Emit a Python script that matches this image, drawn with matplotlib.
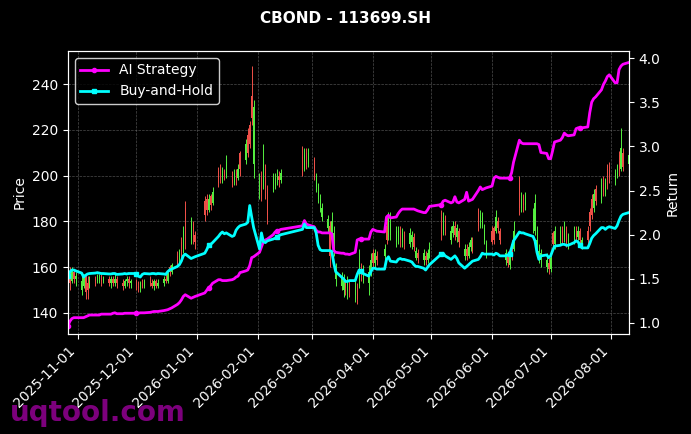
import pandas as pd
import matplotlib
matplotlib.use('Agg')
import matplotlib.pyplot as plt
import matplotlib.dates as mdates

TITLE = 'CBOND - 113699.SH'

# Shanghai trading days (weekends and exchange holidays removed)
HOLIDAYS = ['2026-01-01', '2026-01-02', '2026-02-16', '2026-02-17', '2026-02-18',
            '2026-02-19', '2026-02-20', '2026-02-23', '2026-04-06', '2026-05-01',
            '2026-05-04', '2026-05-05', '2026-06-19']
dates = pd.bdate_range('2025-10-27', '2026-08-10', freq='C', holidays=HOLIDAYS)

# daily candles, one row of values per month
opens = [
    150, 157, 154, 158, 155,
    150, 152, 156, 153, 151, 155, 154, 155, 156, 154, 155, 153, 155, 153, 155, 153, 152, 154, 155, 153,
    154, 152, 151, 153, 152, 154, 153, 152, 154, 152, 153, 155, 154, 160, 158, 165, 162, 171, 168, 186, 172, 179, 174,
    189, 190, 185, 191, 188, 202, 203, 199, 202, 200, 200, 197, 201, 199, 210, 207, 218, 222, 235, 205,
    194, 199, 195, 203, 194, 194, 196, 197, 200, 198, 208, 203, 210, 205,
    207, 195, 190, 186, 182, 177, 178, 174, 170, 155, 152, 150, 153, 149, 152, 148, 151, 152, 160, 155, 153, 158,
    166, 162, 165, 165, 178, 173, 174, 171, 172, 176, 171, 174, 170, 171, 173, 164, 166, 163, 165, 163, 166,
    182, 175, 181, 172, 175, 178, 173, 176, 165, 168, 165, 169, 171, 185, 178, 179, 172, 166,
    176, 177, 176, 180, 176, 163, 165, 161, 170, 168, 198, 186, 191, 187, 178, 176, 168, 164, 163, 160, 162,
    159, 175, 170, 172, 176, 172, 176, 171, 171, 176, 173, 176, 169, 176, 184, 190, 186, 194, 190, 197, 193, 203, 204,
    198, 200, 209, 203, 210, 205,
]
closes = [
    155, 153, 158, 155, 156,
    154, 157, 149, 150, 155, 154, 156, 155.5, 154, 155, 153, 155, 153, 155, 153, 152, 154, 155, 153, 154,
    152, 151, 153, 152, 154, 153, 152, 154, 152, 153, 155, 154, 157, 158, 161, 162, 166, 167, 176, 172, 180, 173, 171,
    183, 185, 190, 187, 193, 197, 199, 202, 200, 206, 197, 201, 198, 203, 203, 214, 210, 214, 225, 230,
    198, 193, 205, 195, 183, 199, 199, 201, 198, 201, 203, 209, 205, 210,
    201, 199, 195, 190, 186, 181, 165, 180, 175, 159, 156, 154, 151, 153, 150, 152, 146, 162, 156, 159, 158, 163,
    162, 166, 163, 168, 172, 181, 179, 176, 176, 172, 175, 170, 175, 174, 169, 167, 164, 166, 163, 166, 169,
    175, 182, 176, 176, 178, 174, 177, 171, 168, 165, 169, 172, 168, 178, 183, 182, 177, 170,
    171, 172, 182, 177, 172, 166, 162, 165, 166, 176, 186, 190, 187, 191, 183, 188, 172, 167, 166, 163, 159,
    164, 170, 176, 176, 172, 177, 171, 174, 176, 173, 176, 172, 172, 172, 178, 183, 192, 189, 196, 193, 197, 196, 199,
    201, 203, 202, 212, 204, 209,
]
highs = [
    158, 160, 160, 159, 158,
    156, 157, 157, 156, 156, 156, 157, 157, 157, 156, 156, 156, 156, 157, 156, 155, 155, 156, 156, 155,
    155, 154, 154, 155, 155, 156, 155, 155, 155, 155, 156, 157, 158, 161, 162, 167, 168, 173, 178, 189, 182, 180, 176,
    191, 192, 192, 192, 195, 204, 205, 204, 203, 209, 202, 203, 203, 205, 211, 216, 221, 224, 248, 233,
    201, 202, 214, 205, 196, 201, 201, 203, 202, 203, 213, 212, 212, 212,
    208, 201, 197, 192, 188, 183, 180, 184, 178, 162, 158, 157, 155, 156, 154, 154, 153, 168, 162, 161, 161, 166,
    168, 168, 167, 170, 182, 184, 184, 178, 178, 178, 177, 176, 177, 176, 175, 169, 168, 168, 167, 168, 171,
    185, 184, 183, 178, 180, 180, 179, 177, 170, 170, 171, 173, 173, 186, 185, 184, 179, 172,
    178, 178, 185, 182, 177, 168, 167, 168, 172, 180, 200, 193, 192, 193, 186, 192, 178, 170, 168, 166, 164,
    166, 176, 178, 178, 178, 180, 178, 175, 178, 178, 178, 177, 173, 178, 186, 192, 194, 196, 199, 200, 199, 205, 206,
    203, 205, 211, 221, 212, 212,
]
lows = [
    147, 150, 153, 153, 152,
    148, 151, 146, 146, 151, 152, 153, 153, 152, 153, 152, 151, 152, 152, 151, 150, 151, 152, 151, 151,
    150, 149, 149, 151, 151, 152, 151, 150, 151, 151, 152, 153, 153, 156, 157, 160, 161, 164, 166, 168, 170, 170, 168,
    180, 183, 184, 185, 187, 195, 197, 197, 198, 199, 195, 196, 196, 198, 200, 205, 208, 212, 222, 199,
    190, 189, 194, 190, 179, 193, 194, 196, 195, 197, 200, 202, 203, 204,
    198, 193, 188, 184, 180, 175, 160, 172, 165, 152, 150, 147, 148, 146, 147, 145, 144, 151, 154, 153, 148, 156,
    160, 160, 161, 163, 170, 172, 172, 169, 170, 169, 169, 168, 169, 168, 167, 163, 162, 161, 161, 162, 164,
    172, 174, 174, 170, 173, 172, 171, 169, 163, 163, 164, 167, 166, 176, 177, 177, 170, 164,
    170, 170, 175, 175, 170, 161, 160, 159, 163, 167, 183, 184, 184, 185, 175, 174, 166, 162, 160, 158, 157,
    158, 168, 168, 170, 170, 171, 169, 168, 170, 171, 172, 170, 168, 170, 176, 181, 184, 187, 188, 191, 191, 194, 197,
    196, 199, 200, 202, 202, 203,
]

# cumulative return of each strategy
ai_return = [
    0.97, 1.02, 1.05, 1.06, 1.06,
    1.06, 1.06, 1.07, 1.08, 1.09, 1.09, 1.09, 1.09, 1.10, 1.10, 1.10, 1.10, 1.11, 1.115, 1.105, 1.105, 1.11, 1.11, 1.11, 1.11,
    1.11, 1.11, 1.115, 1.115, 1.115, 1.12, 1.125, 1.13, 1.13, 1.13, 1.14, 1.145, 1.15, 1.16, 1.17, 1.21, 1.23, 1.26, 1.30, 1.32, 1.28, 1.29, 1.30,
    1.34, 1.37, 1.40, 1.42, 1.45, 1.49, 1.49, 1.48, 1.48, 1.48, 1.49, 1.50, 1.52, 1.53, 1.57, 1.59, 1.60, 1.65, 1.74, 1.75,
    1.80, 1.86, 1.92, 1.94, 1.95, 2.00, 2.03, 2.04, 2.05, 2.06, 2.10, 2.16, 2.12, 2.11,
    2.09, 2.05, 2.03, 2.03, 2.02, 2.02, 2.02, 2.01, 1.82, 1.80, 1.79, 1.79, 1.78, 1.78, 1.775, 1.80, 1.94, 1.95, 1.95, 1.95, 1.95, 2.03,
    2.06, 2.05, 2.04, 2.03, 2.20, 2.22, 2.19, 2.20, 2.24, 2.27, 2.29, 2.29, 2.29, 2.29, 2.29, 2.28, 2.27, 2.25, 2.25, 2.28, 2.32,
    2.34, 2.38, 2.39, 2.36, 2.37, 2.43, 2.37, 2.36, 2.40, 2.48, 2.38, 2.39, 2.40, 2.50, 2.54, 2.51, 2.52, 2.53,
    2.55, 2.64, 2.66, 2.65, 2.64, 2.64, 2.64, 2.64, 2.70, 2.82, 3.07, 3.04, 3.03, 3.03, 3.03, 3.03, 3.03, 3.02, 2.93, 2.92, 2.86,
    2.86, 2.95, 3.05, 3.07, 3.10, 3.15, 3.13, 3.12, 3.13, 3.20, 3.21, 3.21, 3.21, 3.22, 3.38, 3.50, 3.54, 3.56, 3.64, 3.70, 3.74, 3.79, 3.81,
    3.72, 3.72, 3.87, 3.91, 3.93, 3.95,
]
bh_return = [
    1.53, 1.58, 1.60, 1.60, 1.59,
    1.565, 1.52, 1.54, 1.555, 1.56, 1.565, 1.57, 1.565, 1.56, 1.56, 1.555, 1.555, 1.56, 1.56, 1.55, 1.555, 1.56, 1.555, 1.56, 1.56,
    1.56, 1.53, 1.52, 1.55, 1.56, 1.555, 1.56, 1.56, 1.555, 1.56, 1.555, 1.55, 1.58, 1.60, 1.61, 1.64, 1.66, 1.70, 1.76, 1.78, 1.73, 1.74, 1.75,
    1.79, 1.83, 1.88, 1.89, 1.91, 1.98, 2.01, 2.03, 2.01, 2.02, 1.98, 1.99, 2.05, 2.08, 2.10, 2.12, 2.14, 2.33, 2.20, 2.08,
    1.84, 2.02, 1.92, 1.91, 1.93, 1.95, 1.96, 1.97, 1.99, 2.00, 2.06, 2.12, 2.08, 2.08,
    2.08, 2.02, 1.88, 1.83, 1.82, 1.82, 1.82, 1.81, 1.68, 1.58, 1.52, 1.50, 1.47, 1.47, 1.48, 1.48, 1.55, 1.60, 1.59, 1.56, 1.53, 1.58,
    1.62, 1.62, 1.61, 1.61, 1.72, 1.75, 1.70, 1.69, 1.72, 1.73, 1.72, 1.72, 1.70, 1.69, 1.66, 1.64, 1.64, 1.62, 1.60, 1.63, 1.66,
    1.78, 1.79, 1.76, 1.72, 1.74, 1.76, 1.73, 1.68, 1.62, 1.64, 1.66, 1.68, 1.70, 1.72, 1.75, 1.79, 1.78, 1.78,
    1.78, 1.77, 1.79, 1.78, 1.76, 1.76, 1.77, 1.78, 1.85, 1.93, 2.03, 2.02, 2.02, 2.01, 1.98, 1.93, 1.80, 1.72, 1.76, 1.77, 1.74,
    1.76, 1.82, 1.87, 1.88, 1.89, 1.89, 1.88, 1.88, 1.91, 1.93, 1.92, 1.88, 1.85, 1.85, 1.90, 1.96, 1.99, 2.01, 2.08, 2.08, 2.06, 2.08, 2.09,
    2.07, 2.10, 2.16, 2.21, 2.23, 2.25,
]

UP_COLOR = '#55f040'
DOWN_COLOR = '#f05048'

plt.style.use('dark_background')
fig = plt.figure(figsize=(6.91, 4.34), dpi=100)
ax1 = fig.add_axes([0.0984, 0.2304, 0.8116, 0.6521])
ax2 = ax1.twinx()

df = pd.DataFrame({'open': opens, 'high': highs, 'low': lows, 'close': closes}, index=dates)
up = df[df['close'] >= df['open']]
down = df[df['close'] < df['open']]
for part, color in ((up, UP_COLOR), (down, DOWN_COLOR)):
    ax1.vlines(part.index, part['low'], part['high'], color=color, linewidth=0.7)
    ax1.bar(part.index, (part['close'] - part['open']).abs(), bottom=part[['open', 'close']].min(axis=1),
            width=0.55, color=color, linewidth=0)

ax1.set_ylabel('Price')
ax1.set_ylim(130.8, 254.5)
ax1.set_xlim(dates[0], dates[-1])
ax1.grid(True, linestyle='--', linewidth=0.5, color='gray', alpha=0.6)
ax1.xaxis.set_major_locator(mdates.MonthLocator())
ax1.xaxis.set_major_formatter(mdates.DateFormatter('%Y-%m-%d'))
plt.setp(ax1.get_xticklabels(), rotation=45, ha='right')

ax2.plot(dates, ai_return, color='magenta', linewidth=2, marker='o', markersize=3, markevery=25, label='AI Strategy')
ax2.plot(dates, bh_return, color='cyan', linewidth=2, marker='s', markersize=3, markevery=25, label='Buy-and-Hold')
ax2.set_ylabel('Return')
ax2.set_ylim(0.875, 4.08)
ax2.set_xlim(dates[0], dates[-1])
ax2.legend(loc='upper left', facecolor='black', edgecolor='white', fontsize=10)

fig.suptitle(TITLE, color='white', fontsize=11, fontweight='bold', y=0.975)
fig.text(0.015, 0.03, 'uqtool.com', color='#8b008b', alpha=0.9, fontsize=20, fontweight='bold')

fig.savefig('out.png', dpi=100, facecolor='black')
